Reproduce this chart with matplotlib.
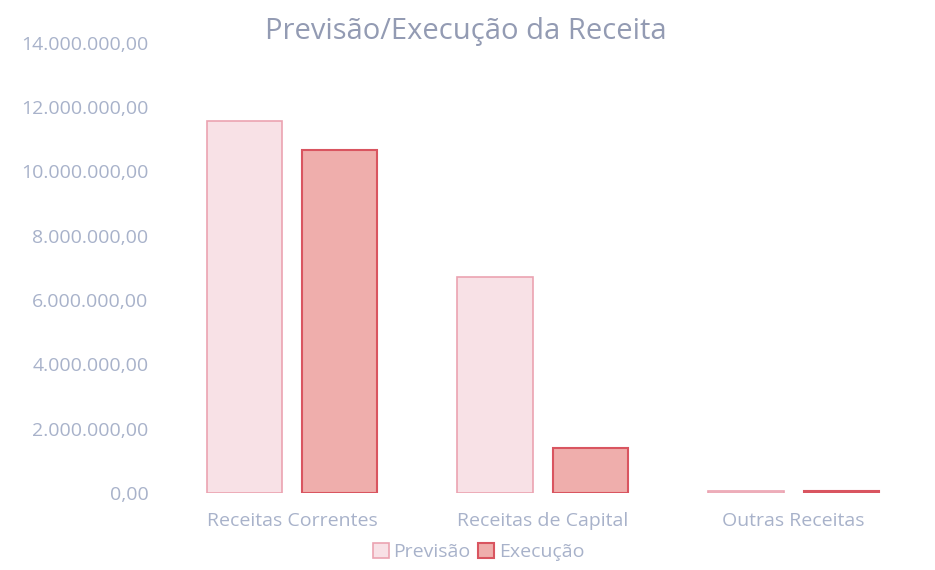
import matplotlib.pyplot as plt
import numpy as np
from matplotlib.ticker import FuncFormatter

categorias = ["Receitas Correntes", "Receitas de Capital", "Outras Receitas"]
previsao = [11570000, 6720000, 60000]
execucao = [10670000, 1400000, 60000]
series = ["Previsão", "Execução"]

plt.rcParams['font.family'] = ['Open Sans', 'DejaVu Sans']
texto = "#a8b2ca"

fig = plt.figure(figsize=(9.35, 5.7), dpi=100)
ax = fig.add_axes([0.178, 0.135, 0.805, 0.79])

x = np.arange(len(categorias))
w = 0.30
ax.bar(x - 0.19, previsao, w, color="#f8e1e6", edgecolor="#eba3b1",
       linewidth=1.2, label=series[0])
ax.bar(x + 0.19, execucao, w, color="#efaeac", edgecolor="#d95560",
       linewidth=1.5, label=series[1])

ax.set_xlim(-0.5, 2.5)
ax.set_ylim(0, 14000000)
ax.set_yticks(np.arange(0, 14000001, 2000000))


def fmt(v, pos):
    s = f"{v:,.2f}"
    return s.replace(",", "X").replace(".", ",").replace("X", ".")


ax.yaxis.set_major_formatter(FuncFormatter(fmt))
ax.set_xticks(x)
ax.set_xticklabels(categorias, fontsize=14)
ax.tick_params(axis="both", length=0, colors=texto)
ax.tick_params(axis="y", pad=13, labelsize=14)
ax.tick_params(axis="x", pad=14)
for s in ax.spines.values():
    s.set_visible(False)

fig.text(0.498, 0.944, "Previsão/Execução da Receita", ha="center", va="center",
         fontsize=21, color="#939bb3")

fig.legend(loc="center", bbox_to_anchor=(0.512, 0.032), ncol=2, frameon=False,
           fontsize=14, labelcolor=texto, handlelength=0.8, handleheight=0.8,
           handletextpad=0.25, columnspacing=0.4)

fig.savefig("out.png", dpi=100, facecolor="white")
